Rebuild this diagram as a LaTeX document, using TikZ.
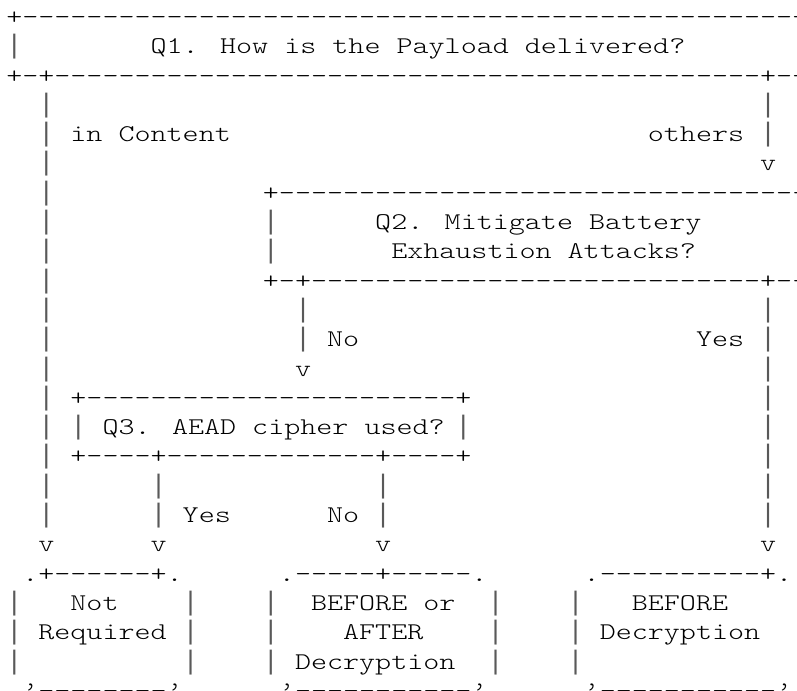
\documentclass[tikz,border=0pt]{standalone}
\usepackage{fontspec}
% light typewriter face, widened to a 16px character cell
\newfontfamily\asciifont{lmmonolt10-regular}[Extension=.otf, FakeStretch=1.273]
% bar glyph that spans the whole line height, same 16px cell
\newfontfamily\barfont{Liberation Mono}
% \Rep{n}{text}: n copies of text
\ExplSyntaxOn
\cs_new_eq:NN \Rep \prg_replicate:nn
\ExplSyntaxOff
\definecolor{bargray}{gray}{0.35}
\tikzset{
  asc/.style={anchor=base west, inner sep=0pt, outer sep=0pt,
    font=\asciifont\fontsize{18pt}{20pt}\selectfont, text=black},
}
% \chunk{column}{row}{text}: characters set on the monospace grid
\newcommand\chunk[3]{\node[asc] (r#2c#1) at ({6.3+16.04*#1},{24.5+29.3*#2}) {#3};}
\newcommand\vb{{\barfont\fontsize{20.05pt}{22pt}\selectfont\textcolor{bargray}{|}}}
\begin{document}
\begin{tikzpicture}[x=0.75pt,y=-0.75pt]
\useasboundingbox (0,0) rectangle (797,691);
\fill[white] (0,0) rectangle (797,691);
\clip (0,0) rectangle (797,691);
% Q1 box
\chunk{0}{0}{+\Rep{49}{-}}
\chunk{0}{1}{\vb}\chunk{9}{1}{Q1. How is the Payload delivered?}
\chunk{0}{2}{+-+\Rep{44}{-}+--}
\chunk{2}{3}{\vb}\chunk{47}{3}{\vb}
\chunk{2}{4}{\vb}\chunk{4}{4}{in Content}\chunk{40}{4}{others}\chunk{47}{4}{\vb}
\chunk{2}{5}{\vb}\chunk{47}{5}{v}
% Q2 box
\chunk{2}{6}{\vb}\chunk{16}{6}{+\Rep{33}{-}}
\chunk{2}{7}{\vb}\chunk{16}{7}{\vb}\chunk{23}{7}{Q2. Mitigate Battery}
\chunk{2}{8}{\vb}\chunk{16}{8}{\vb}\chunk{24}{8}{Exhaustion Attacks?}
\chunk{2}{9}{\vb}\chunk{16}{9}{+-+\Rep{28}{-}+--}
\chunk{2}{10}{\vb}\chunk{18}{10}{\vb}\chunk{47}{10}{\vb}
\chunk{2}{11}{\vb}\chunk{18}{11}{\vb}\chunk{20}{11}{No}\chunk{43}{11}{Yes}\chunk{47}{11}{\vb}
\chunk{2}{12}{\vb}\chunk{18}{12}{v}\chunk{47}{12}{\vb}
% Q3 box
\chunk{2}{13}{\vb}\chunk{4}{13}{+\Rep{23}{-}+}\chunk{47}{13}{\vb}
\chunk{2}{14}{\vb}\chunk{4}{14}{\vb}\chunk{6}{14}{Q3. AEAD cipher used?}\chunk{28}{14}{\vb}\chunk{47}{14}{\vb}
\chunk{2}{15}{\vb}\chunk{4}{15}{+----+\Rep{13}{-}+----+}\chunk{47}{15}{\vb}
\chunk{2}{16}{\vb}\chunk{9}{16}{\vb}\chunk{23}{16}{\vb}\chunk{47}{16}{\vb}
\chunk{2}{17}{\vb}\chunk{9}{17}{\vb}\chunk{11}{17}{Yes}\chunk{20}{17}{No}\chunk{23}{17}{\vb}\chunk{47}{17}{\vb}
\chunk{2}{18}{v}\chunk{9}{18}{v}\chunk{23}{18}{v}\chunk{47}{18}{v}
% result boxes
\chunk{1}{19}{.+\Rep{6}{-}+.}\chunk{17}{19}{.\Rep{5}{-}+\Rep{5}{-}.}\chunk{36}{19}{.\Rep{10}{-}+.}
\chunk{0}{20}{\vb}\chunk{4}{20}{Not}\chunk{11}{20}{\vb}\chunk{16}{20}{\vb}\chunk{19}{20}{BEFORE or}\chunk{30}{20}{\vb}\chunk{35}{20}{\vb}\chunk{39}{20}{BEFORE}
\chunk{0}{21}{\vb}\chunk{2}{21}{Required}\chunk{11}{21}{\vb}\chunk{16}{21}{\vb}\chunk{21}{21}{AFTER}\chunk{30}{21}{\vb}\chunk{35}{21}{\vb}\chunk{37}{21}{Decryption}
\chunk{0}{22}{\vb}\chunk{11}{22}{\vb}\chunk{16}{22}{\vb}\chunk{18}{22}{Decryption}\chunk{30}{22}{\vb}\chunk{35}{22}{\vb}
\chunk{1}{23}{’\Rep{8}{-}’}\chunk{17}{23}{’\Rep{11}{-}’}\chunk{36}{23}{’\Rep{11}{-}’}
\end{tikzpicture}
\end{document}
